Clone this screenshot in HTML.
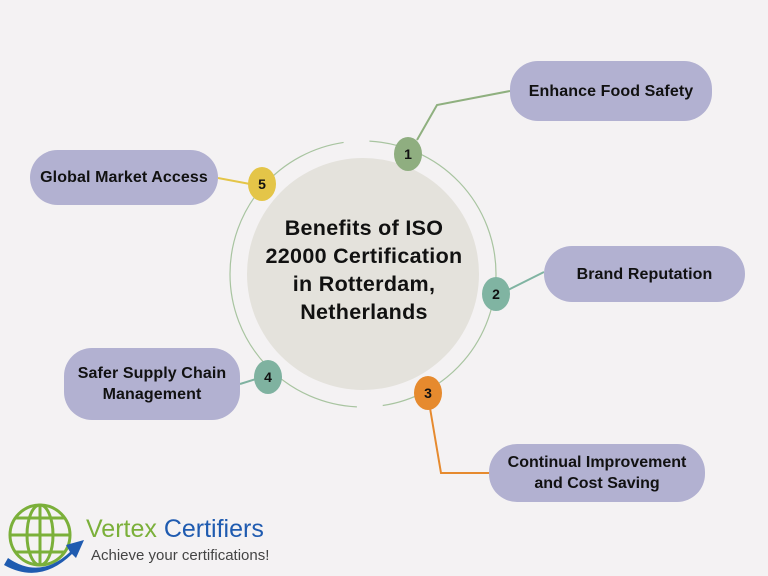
<!DOCTYPE html>
<html><head><meta charset="utf-8"><style>
body{margin:0;width:768px;height:576px;background:#f4f2f3;overflow:hidden;font-family:"Liberation Sans",sans-serif}
.b{position:absolute;background:#b2b1d1;border-radius:28px;display:flex;align-items:center;justify-content:center;text-align:center;font-weight:bold;font-size:16px;color:#111;line-height:21px;letter-spacing:0.1px}
</style></head><body>
<svg width="768" height="576" style="position:absolute;left:0;top:0">
<circle cx="363" cy="274" r="116" fill="#e4e2dc"/>
<circle cx="363" cy="274" r="133" fill="none" stroke="#a8c4a0" stroke-width="1.2" stroke-dasharray="392 26 " stroke-dashoffset="-215"/>
<polyline points="417,140 437,105 510,91" fill="none" stroke="#8fb07f" stroke-width="2"/>
<line x1="218" y1="178" x2="250" y2="184" stroke="#e4c548" stroke-width="2"/>
<line x1="508" y1="290" x2="544" y2="272" stroke="#80b4a2" stroke-width="2"/>
<line x1="240" y1="384" x2="256" y2="379" stroke="#7fb2a0" stroke-width="2"/>
<polyline points="430,408 441,473 489,473" fill="none" stroke="#e68a2e" stroke-width="2"/>
<g font-family="Liberation Sans" font-weight="bold" font-size="14" text-anchor="middle" fill="#111">
<ellipse cx="408" cy="154" rx="14" ry="17" fill="#8fae80"/><text x="408" y="159">1</text>
<ellipse cx="496" cy="294" rx="14" ry="17" fill="#80b4a2"/><text x="496" y="299">2</text>
<ellipse cx="428" cy="393" rx="14" ry="17" fill="#e68a2e"/><text x="428" y="398">3</text>
<ellipse cx="268" cy="377" rx="14" ry="17" fill="#7fb2a0"/><text x="268" y="382">4</text>
<ellipse cx="262" cy="184" rx="14" ry="17" fill="#e4c548"/><text x="262" y="189">5</text>
</g>
<text font-family="Liberation Sans" font-weight="bold" font-size="21.5" letter-spacing="0.3" text-anchor="middle" fill="#111">
<tspan x="364" y="235">Benefits of ISO</tspan><tspan x="364" y="263">22000 Certification</tspan><tspan x="364" y="291">in Rotterdam,</tspan><tspan x="364" y="319">Netherlands</tspan></text>
<g fill="none" stroke="#7bb03a" stroke-width="3">
<circle cx="40" cy="535" r="30"/><ellipse cx="40" cy="535" rx="13" ry="30"/><line x1="40" y1="505" x2="40" y2="565"/><line x1="10" y1="535" x2="70" y2="535"/><path d="M15 518 H65 M15 552 H65"/></g>
<path d="M8 558 Q40 580 70 552 L66 545 L84 540 L76 558 L72 554 Q40 585 4 565 Z" fill="#1f5bb0"/>
<text x="86" y="537" font-family="Liberation Sans" font-size="25" fill="#7bb03a">Vertex <tspan fill="#1f5bb0">Certifiers</tspan></text>
<text x="91" y="560" font-family="Liberation Sans" font-size="15" fill="#444">Achieve your certifications!</text>
</svg>
<div class="b" style="left:510px;top:61px;width:202px;height:60px">Enhance Food Safety</div>
<div class="b" style="left:544px;top:246px;width:201px;height:56px">Brand Reputation</div>
<div class="b" style="left:489px;top:444px;width:216px;height:58px;letter-spacing:0">Continual Improvement<br>and Cost Saving</div>
<div class="b" style="left:30px;top:150px;width:188px;height:55px">Global Market Access</div>
<div class="b" style="left:64px;top:348px;width:176px;height:72px">Safer Supply Chain<br>Management</div>
</body></html>
